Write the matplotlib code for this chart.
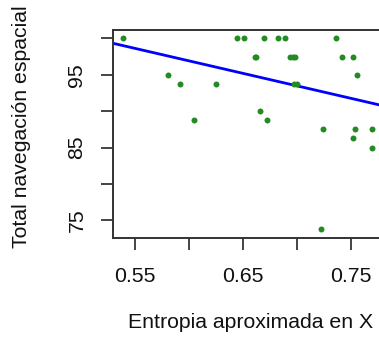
import matplotlib
matplotlib.use("Agg")
import matplotlib.pyplot as plt
import numpy as np

plt.rcParams['font.family'] = ['Liberation Sans', 'DejaVu Sans']

# data
entropia_x = [0.5383, 0.5806, 0.5917, 0.6047, 0.6251, 0.6440, 0.6508, 0.6607,
              0.6620, 0.6659, 0.6696, 0.6724, 0.6820, 0.6882, 0.6932, 0.6957,
              0.6980, 0.6969, 0.6997, 0.7219, 0.7234, 0.7361, 0.7414, 0.7512,
              0.7549, 0.7512, 0.7537, 0.7692, 0.7692]
total_nav = [100, 95, 93.75, 88.75, 93.75, 100, 100, 97.5,
             97.5, 90, 100, 88.75, 100, 100, 97.5, 97.5,
             97.5, 93.75, 93.75, 73.75, 87.5, 100, 97.5, 97.5,
             95, 86.25, 87.5, 87.5, 85]
fit_intercept = 117.47
fit_slope = -34.3
x_ticks = [0.55, 0.60, 0.65, 0.70, 0.75]
x_tick_labels = ['0.55', '', '0.65', '', '0.75']
y_ticks = [75, 80, 85, 90, 95, 100]
y_tick_labels = ['75', '', '85', '', '95', '']

W, H = 379, 341
fig = plt.figure(figsize=(W/100, H/100), dpi=100)
left, right, top, bottom = 113, 389, 30, 238
ax = fig.add_axes([left/W, (H-bottom)/H, (right-left)/W, (bottom-top)/H])

ax.scatter(entropia_x, total_nav, s=4.3**2, color='#228B22', zorder=3, linewidths=0)
xl = (0.5293, 0.785)
xs = np.array(xl)
ax.plot(xs, fit_intercept + fit_slope*xs, color='#0000FF', lw=2.0, zorder=2)
ax.set_xlim(*xl)
ax.set_ylim(72.57, 101.14)

ax.set_xticks(x_ticks)
ax.set_xticklabels(x_tick_labels)
ax.set_yticks(y_ticks)
ax.set_yticklabels(y_tick_labels, rotation=90, va='center')

for s in ax.spines.values():
    s.set_color('#333333')
    s.set_linewidth(1.4)
ax.tick_params(axis='both', length=8.6, width=1.4, color='#444444',
               labelsize=15.3, labelcolor='#111111')
ax.tick_params(axis='x', pad=12)
ax.tick_params(axis='y', pad=10.5)

fig.text(250.8/W, (H-328)/H, 'Entropia aproximada en X', ha='center', va='baseline',
         fontsize=15.3, color='#111111')
fig.text(22/W, (H-126.5)/H, 'Total navegación espacial', ha='center', va='center',
         rotation=90, fontsize=15.3, color='#111111')

fig.savefig('out.png', dpi=100)
